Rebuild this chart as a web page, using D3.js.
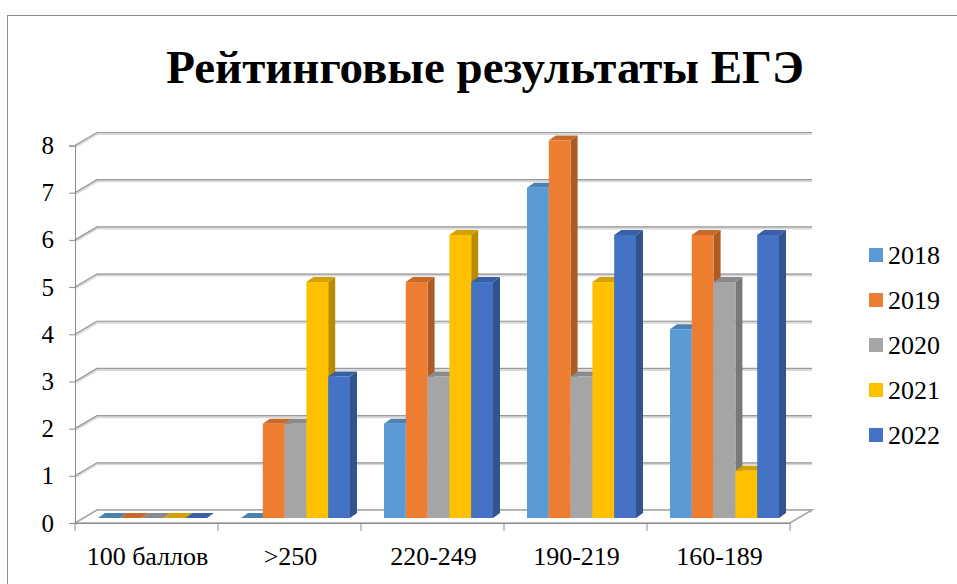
<!DOCTYPE html>
<html>
<head>
<meta charset="utf-8">
<script src="https://cdn.jsdelivr.net/npm/d3@7"></script>
</head>
<body style="margin:0">
<svg id="chart" width="957" height="584" font-family="Liberation Serif"></svg>
<script>
// data
var categories = ["100 баллов", ">250", "220-249", "190-219", "160-189"];
var seriesNames = ["2018", "2019", "2020", "2021", "2022"];
var seriesColors = ["#5B9BD5", "#ED7D31", "#A5A5A5", "#FFC000", "#4472C4"];
var values2018 = [0, 0, 2, 7, 4];
var values2019 = [0, 2, 5, 8, 6];
var values2020 = [0, 2, 3, 3, 5];
var values2021 = [0, 5, 6, 5, 1];
var values2022 = [0, 3, 5, 6, 6];
var yTicks = [0, 1, 2, 3, 4, 5, 6, 7, 8];

var seriesValues = [values2018, values2019, values2020, values2021, values2022];
var FONT = "Liberation Serif";

var svg = d3.select("#chart");

// chart frame
svg.append("rect")
  .attr("x", 7.5).attr("y", 15.5)
  .attr("width", 1000).attr("height", 700)
  .attr("fill", "#fff")
  .attr("stroke", "#8c8c8c")
  .attr("stroke-width", 1);

svg.append("text")
  .attr("x", 485).attr("y", 83)
  .attr("text-anchor", "middle")
  .attr("font-family", FONT)
  .attr("font-size", 47)
  .attr("font-weight", "bold")
  .text("Рейтинговые результаты ЕГЭ");

var left = 75, right = 790;
var depthX = 22, depthY = -13;   // back wall offset
var barOffX = 6, barOffY = -5;   // bars sit a bit inside the floor
var barDX = 7, barDY = -5;       // bar depth

var x = d3.scaleBand().domain(categories).range([left, right]);
var y = d3.scaleLinear().domain([0, 8]).range([523, 145.5]);
var inner = d3.scaleBand().domain(seriesNames).range([0, 109]);

// back wall gridlines with the diagonal from the front axis
var grid = svg.append("g");
yTicks.forEach(function(t) {
  var yy = y(t);
  var p = "M" + left + "," + yy + "L" + (left + depthX) + "," + (yy + depthY) +
          "L" + (right + depthX) + "," + (yy + depthY);
  grid.append("path").attr("d", p).attr("fill", "none")
    .attr("stroke", "#d9d9d9").attr("stroke-width", 3)
    .attr("transform", "translate(0,1)");
  grid.append("path").attr("d", p).attr("fill", "none")
    .attr("stroke", "#9a9a9a").attr("stroke-width", 1.2);
});

// floor
var y0 = y(0);
svg.append("path")
  .attr("d", "M" + left + "," + y0 + "L" + right + "," + y0 + "L" + (right + depthX) + "," + (y0 + depthY) +
        "L" + (left + depthX) + "," + (y0 + depthY) + "Z")
  .attr("fill", "#fff").attr("stroke", "#a6a6a6").attr("stroke-width", 1.5);

// bars
var bars = svg.append("g");
categories.forEach(function(c, ci) {
  var cx = x(c) + (x.bandwidth() - 109) / 2 + barOffX;
  seriesNames.forEach(function(s, si) {
    var v = seriesValues[si][ci];
    var col = d3.color(seriesColors[si]);
    var bx = cx + inner(s), bw = inner.bandwidth();
    var base = y(0) + barOffY, top = y(v) + barOffY;
    var g = bars.append("g");
    // side
    g.append("path")
      .attr("d", "M" + (bx + bw) + "," + base + "L" + (bx + bw + barDX) + "," + (base + barDY) +
            "L" + (bx + bw + barDX) + "," + (top + barDY) + "L" + (bx + bw) + "," + top + "Z")
      .attr("fill", col.darker(0.9));
    // top
    g.append("path")
      .attr("d", "M" + bx + "," + top + "L" + (bx + bw) + "," + top + "L" + (bx + bw + barDX) + "," + (top + barDY) +
            "L" + (bx + barDX) + "," + (top + barDY) + "Z")
      .attr("fill", col.darker(0.5));
    // front
    g.append("rect")
      .attr("x", bx).attr("y", top)
      .attr("width", bw).attr("height", base - top)
      .attr("fill", col);
  });
});

// y axis
svg.append("g")
  .attr("transform", "translate(" + left + ",0)")
  .call(d3.axisLeft(y).tickValues(yTicks).tickSize(6).tickPadding(15))
  .call(function(g) {
    g.attr("font-family", FONT).attr("font-size", 25);
    g.select(".domain").attr("stroke", "#8c8c8c");
    g.selectAll(".tick line").attr("stroke", "#8c8c8c");
    g.selectAll("text").attr("fill", "#000");
  });

// x axis
svg.append("g")
  .attr("transform", "translate(0," + y0 + ")")
  .call(d3.axisBottom(x).tickSize(0).tickPadding(0))
  .call(function(g) {
    g.select(".domain").attr("stroke", "#8c8c8c");
    g.selectAll("text").remove();
  });
var xb = svg.append("g");
x.domain().concat([null]).forEach(function(c) {
  var xx = c === null ? right : x(c);
  xb.append("line").attr("x1", xx).attr("x2", xx).attr("y1", y0).attr("y2", y0 + 8)
    .attr("stroke", "#8c8c8c");
});
xb.selectAll("text.cat").data(categories).enter().append("text")
  .attr("class", "cat")
  .attr("x", function(d) { return x(d) + x.bandwidth() / 2 + 1; })
  .attr("y", 565)
  .attr("text-anchor", "middle")
  .attr("font-family", FONT)
  .attr("font-size", 26)
  .text(function(d) { return d; });

// legend
var legend = svg.append("g").attr("transform", "translate(869,255)");
seriesNames.forEach(function(s, i) {
  var row = legend.append("g").attr("transform", "translate(0," + (i * 45) + ")");
  row.append("rect").attr("x", 0).attr("y", -7).attr("width", 14).attr("height", 14)
    .attr("fill", seriesColors[i]);
  row.append("text").attr("x", 19).attr("y", 9)
    .attr("font-family", FONT)
    .attr("font-size", 26)
    .text(s);
});
</script>
</body>
</html>
